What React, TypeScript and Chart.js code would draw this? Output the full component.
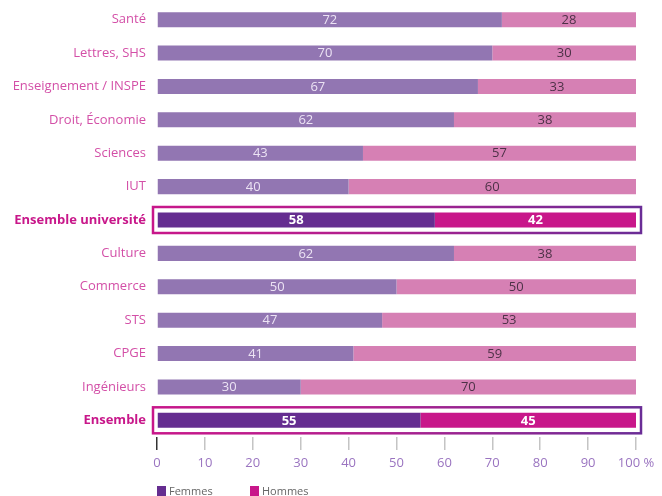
import React, { useEffect, useRef } from "react";
import { Chart, registerables } from "chart.js";

Chart.register(...registerables);

const categories = [
  "Santé",
  "Lettres, SHS",
  "Enseignement / INSPE",
  "Droit, Économie",
  "Sciences",
  "IUT",
  "Ensemble université",
  "Culture",
  "Commerce",
  "STS",
  "CPGE",
  "Ingénieurs",
  "Ensemble",
];
const femmes = [72, 70, 67, 62, 43, 40, 58, 62, 50, 47, 41, 30, 55];
const hommes = [28, 30, 33, 38, 57, 60, 42, 38, 50, 53, 59, 70, 45];
const highlighted = ["Ensemble université", "Ensemble"];
const xTicks = [0, 10, 20, 30, 40, 50, 60, 70, 80, 90, 100];
const legendLabels = ["Femmes", "Hommes"];

const FONT = "'Open Sans', sans-serif";
const isHi = (i: number) => highlighted.includes(categories[i]);

const colF = "#9276b2";
const colH = "#d680b4";
const colFDark = "#652d90";
const colHDark = "#c8178a";

const overlayPlugin = {
  id: "overlay",
  afterDatasetsDraw(chart: any) {
    const { ctx, scales } = chart;
    const xs = scales.x;
    const ys = scales.y;
    ctx.save();
    categories.forEach((c, i) => {
      if (!isHi(i)) return;
      const y = ys.getPixelForValue(i);
      const x0 = xs.getPixelForValue(0) - 4;
      const x1 = xs.getPixelForValue(100) + 5;
      const g = ctx.createLinearGradient(x0, 0, x1, 0);
      g.addColorStop(0, "#c8178a");
      g.addColorStop(0.45, "#b01f8e");
      g.addColorStop(1, "#6a2d96");
      ctx.strokeStyle = g;
      ctx.lineWidth = 2.5;
      ctx.strokeRect(x0, y - 13, x1 - x0, 26);
    });
    ctx.textAlign = "center";
    ctx.textBaseline = "middle";
    chart.data.datasets.forEach((ds: any, di: number) => {
      const meta = chart.getDatasetMeta(di);
      meta.data.forEach((bar: any, i: number) => {
        const v = ds.data[i];
        const hi = isHi(i);
        const cx = (bar.base + bar.x) / 2;
        ctx.font = (hi ? "bold " : "") + "13px " + FONT;
        ctx.fillStyle = hi ? "#ffffff" : di === 0 ? "#ece3f4" : "#4d3147";
        ctx.fillText(String(v), cx, bar.y + 0.5);
      });
    });
    const lx = xs.left;
    const ly = 491;
    ctx.textAlign = "left";
    ctx.font = "11px " + FONT;
    const legCols = [colFDark, colHDark];
    const offsets = [0, 93];
    legendLabels.forEach((l, k) => {
      ctx.fillStyle = legCols[k];
      ctx.fillRect(lx + offsets[k], ly - 5, 9, 10);
      ctx.fillStyle = "#666666";
      ctx.fillText(l, lx + offsets[k] + 12, ly + 1);
    });
    ctx.restore();
  },
};

export default function App() {
  const ref = useRef<HTMLCanvasElement | null>(null);
  useEffect(() => {
    if (!ref.current) return;
    const chart = new Chart(ref.current, {
      type: "bar",
      data: {
        labels: categories,
        datasets: [
          {
            label: legendLabels[0],
            data: femmes,
            backgroundColor: categories.map((_, i) => (isHi(i) ? colFDark : colF)),
            barPercentage: 0.45,
            categoryPercentage: 1,
          },
          {
            label: legendLabels[1],
            data: hommes,
            backgroundColor: categories.map((_, i) => (isHi(i) ? colHDark : colH)),
            barPercentage: 0.45,
            categoryPercentage: 1,
          },
        ],
      },
      options: {
        indexAxis: "y",
        animation: false,
        responsive: false,
        devicePixelRatio: 1,
        layout: { padding: { top: 3, right: 26, left: 0, bottom: 0 } },
        plugins: {
          legend: { display: false },
          tooltip: { enabled: false },
        },
        scales: {
          x: {
            stacked: true,
            min: 0,
            max: 100,
            afterBuildTicks: (s: any) => {
              s.ticks = xTicks.map((v) => ({ value: v }));
            },
            afterFit: (s: any) => {
              s.height = 59;
              s.paddingLeft = 0;
              s.paddingRight = 0;
            },
            border: { display: false },
            grid: {
              drawOnChartArea: false,
              drawTicks: true,
              tickLength: 13,
              lineWidth: 1.5,
              tickColor: (c: any) => (c.tick && c.tick.value === 0 ? "#333333" : "#c4c4c4"),
            },
            ticks: {
              padding: 5,
              color: "#9a74c0",
              font: { family: FONT, size: 13 },
              callback: (v: any) => (v === 100 ? "100 %" : String(v)),
              maxRotation: 0,
            },
          },
          y: {
            stacked: true,
            afterFit: (s: any) => {
              s.width = 157;
              s.paddingTop = 0;
              s.paddingBottom = 0;
            },
            border: { display: false },
            grid: { display: false, drawTicks: false },
            ticks: {
              padding: 11,
              color: (c: any) => (isHi(c.index) ? "#c8178a" : "#d34fa7"),
              font: (c: any) =>
                isHi(c.index)
                  ? { family: FONT, size: 13, weight: "bold" }
                  : { family: FONT, size: 13 },
            },
          },
        },
      },
      plugins: [overlayPlugin],
    } as any);
    return () => chart.destroy();
  }, []);
  return (
    <div style={{ position: "absolute", left: 0, top: 0, width: 662, height: 496, background: "#fff" }}>
      <canvas ref={ref} width={662} height={496} />
    </div>
  );
}
